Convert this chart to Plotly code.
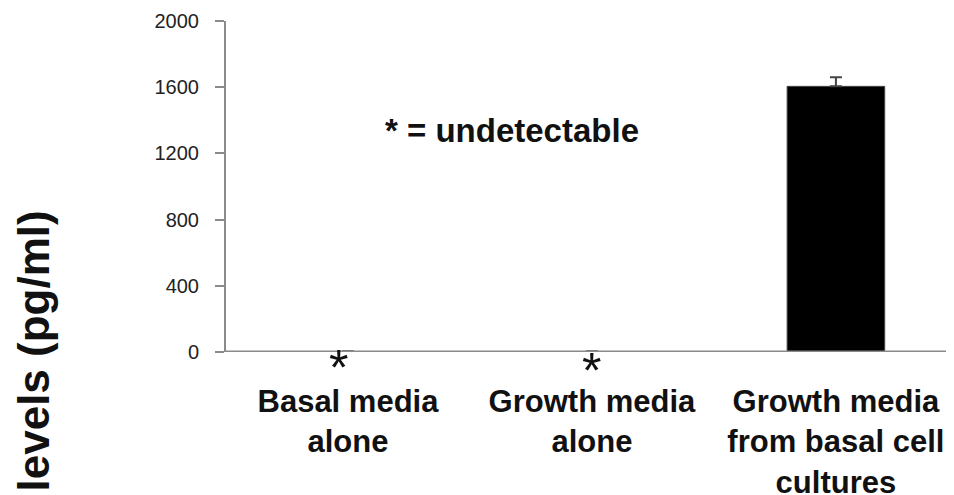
import plotly.graph_objects as go

categories = ["Basal media<br>alone", "Growth media<br>alone", "Growth media<br>from basal cell<br>cultures"]
levels = [0, 0, 1605]
errors = [5, 5, 55]
undetectable = [True, True, False]
y_ticks = [0, 400, 800, 1200, 1600, 2000]

FONT = "Liberation Sans, Arial, sans-serif"
AXIS_GRAY = "#8a8a8a"

x_idx = list(range(len(categories)))

fig = go.Figure()
fig.add_trace(go.Bar(
    x=x_idx, y=levels, width=0.4,
    marker=dict(color="black", line=dict(color="#444", width=1)),
    error_y=dict(type="data", symmetric=False, array=errors, arrayminus=[0] * len(errors),
                 visible=True, color="#444", thickness=2, width=6),
))

# asterisks for undetectable values
for i, (v, u) in enumerate(zip(levels, undetectable)):
    if u:
        fig.add_annotation(x=i, y=v, xref="x", yref="y", text="*", showarrow=False,
                           yanchor="top", xshift=(-9 if i == 0 else 0), yshift=(14 if i == 0 else 11),
                           font=dict(family=FONT, size=50, color="#111"))

fig.add_annotation(x=(383 - 226) / 728, y=(352 - 130) / 331, xref="paper", yref="paper",
                   text="* = undetectable", showarrow=False, xanchor="left", yanchor="middle",
                   font=dict(family=FONT, size=33, color="#111", weight="bold"))

fig.add_annotation(x=(33 - 226) / 728, y=(352 - 209) / 331, xref="paper", yref="paper",
                   text="levels (pg/ml)", showarrow=False, textangle=-90,
                   xanchor="center", yanchor="top",
                   font=dict(family=FONT, size=44, color="#111", weight="bold"))

fig.update_layout(
    width=946, height=487,
    margin=dict(l=218, r=0, t=13, b=143),
    paper_bgcolor="white", plot_bgcolor="white",
    showlegend=False,
    xaxis=dict(
        range=[-0.5, 2.484], tickmode="array", tickvals=x_idx, ticktext=categories,
        showgrid=False, zeroline=False, showline=False, ticks="",
        ticklabelstandoff=28, automargin=False,
        tickfont=dict(family=FONT, size=31, color="#111", weight="bold"),
    ),
    yaxis=dict(
        range=[0, 2000], tickmode="array", tickvals=y_ticks,
        showgrid=False, zeroline=False, showline=True, linecolor=AXIS_GRAY, linewidth=2,
        ticks="outside", ticklen=9, tickwidth=2, tickcolor=AXIS_GRAY,
        ticklabelstandoff=12, automargin=False,
        tickfont=dict(family=FONT, size=20, color="#222"),
    ),
    shapes=[dict(type="line", xref="paper", yref="y", x0=0, x1=1, y0=0, y1=0,
                 line=dict(color=AXIS_GRAY, width=3), layer="above")],
)

fig.write_html("out.html")
